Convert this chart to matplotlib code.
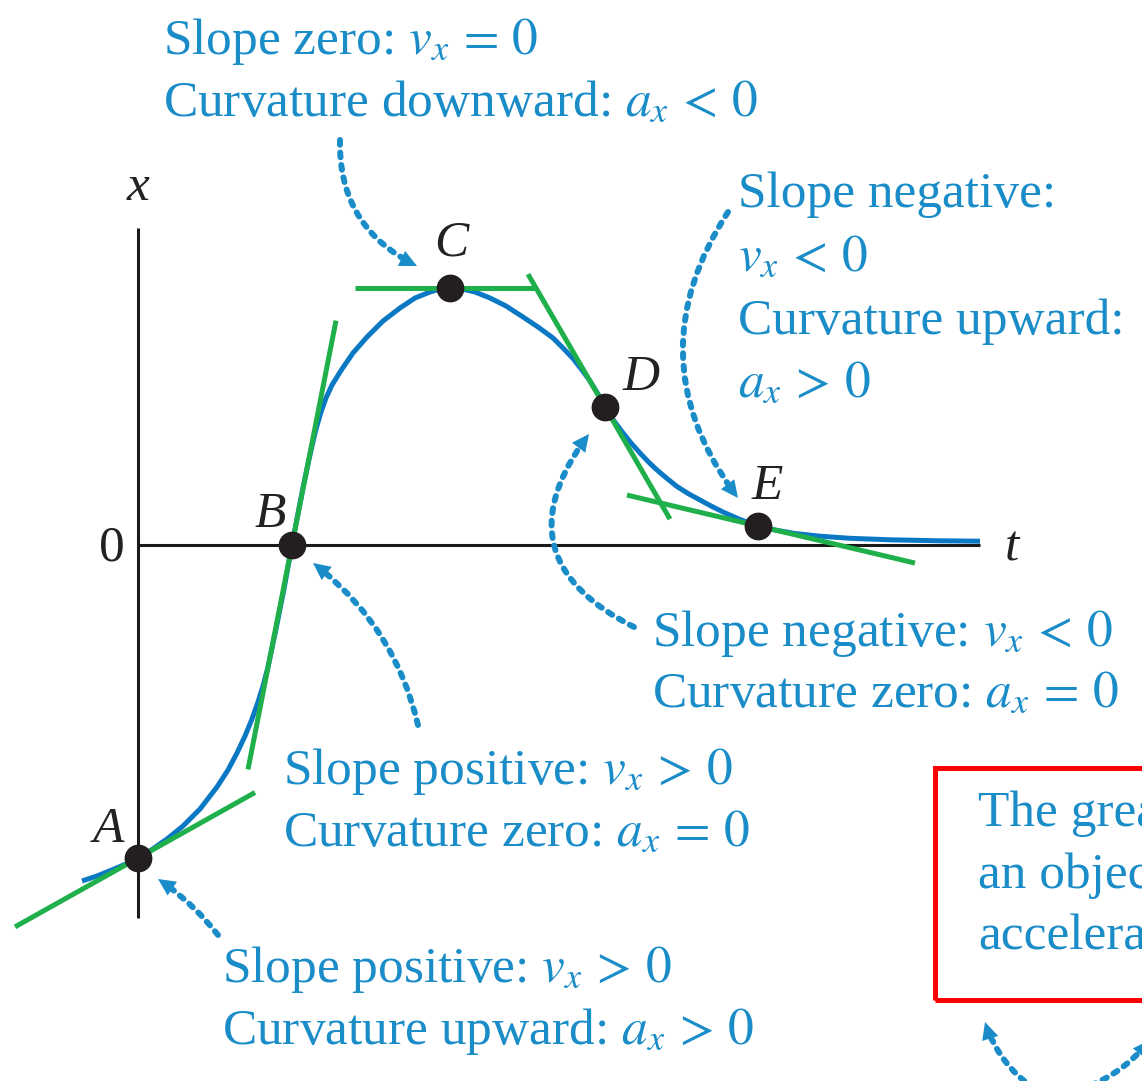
import matplotlib.pyplot as plt
from matplotlib.patches import FancyArrowPatch, Rectangle

plt.rcParams['font.family'] = ['Liberation Serif', 'DejaVu Serif']
plt.rcParams['mathtext.fontset'] = 'stix'

# x-t curve read point by point
t_curve = [-0.56, -0.41, -0.25, -0.12, 0.00, 0.14, 0.29, 0.45, 0.62, 0.79, 0.90, 0.99,
           1.07, 1.14, 1.20, 1.25, 1.30, 1.34, 1.38, 1.42, 1.46, 1.50, 1.54, 1.58,
           1.62, 1.66, 1.70, 1.74, 1.78, 1.83, 1.88, 1.94, 2.04, 2.15, 2.29, 2.45,
           2.62, 2.77, 2.92, 3.02, 3.12, 3.22, 3.37, 3.52, 3.68, 3.85, 4.00, 4.15,
           4.25, 4.35, 4.44, 4.52, 4.60, 4.67, 4.76, 4.85, 4.935, 5.02, 5.105, 5.19,
           5.29, 5.39, 5.50, 5.62, 5.73, 5.85, 6.02, 6.20, 6.37, 6.57, 6.82, 7.12,
           7.52, 8.02, 8.42]
x_curve = [-3.36, -3.31, -3.245, -3.19, -3.13, -3.045, -2.94, -2.81, -2.64, -2.42, -2.25, -2.08,
           -1.91, -1.74, -1.57, -1.41, -1.22, -1.03, -0.84, -0.64, -0.44, -0.22, 0.00, 0.21,
           0.42, 0.62, 0.81, 0.99, 1.16, 1.33, 1.47, 1.60, 1.76, 1.92, 2.08, 2.24,
           2.37, 2.47, 2.53, 2.56, 2.57, 2.565, 2.53, 2.47, 2.39, 2.28, 2.18, 2.07,
           1.97, 1.865, 1.75, 1.64, 1.51, 1.38, 1.24, 1.12, 1.015, 0.92, 0.83, 0.75,
           0.665, 0.585, 0.515, 0.45, 0.39, 0.33, 0.255, 0.19, 0.15, 0.115, 0.088, 0.067,
           0.052, 0.042, 0.038]

# marked points and their tangents
pt_names = ['A', 'B', 'C', 'D', 'E']
pt_t = [0.00, 1.54, 3.12, 4.67, 6.20]
pt_x = [-3.13, 0.00, 2.57, 1.38, 0.19]
tan_slope = [0.56, 5.1, 0.0, -1.725, -0.236]
tan_from = [-1.23, 1.10, 2.17, 3.90, 4.89]
tan_to = [1.17, 1.98, 3.99, 5.32, 7.77]
name_pos = [(-0.30, -2.85), (1.32, 0.30), (3.13, 3.02), (5.03, 1.67), (6.29, 0.58)]

# callout text: (t, x baseline, line)
notes = [
    (0.25, 4.91, r'Slope zero: $v_x\,=\,0$'),
    (0.25, 4.29, r'Curvature downward: $a_x\,<\,0$'),
    (6.00, 3.38, 'Slope negative:'),
    (6.00, 2.74, r'$v_x\,<\,0$'),
    (6.00, 2.11, 'Curvature upward:'),
    (6.00, 1.48, r'$a_x\,>\,0$'),
    (5.14, -1.01, r'Slope negative: $v_x\,<\,0$'),
    (5.14, -1.62, r'Curvature zero: $a_x\,=\,0$'),
    (1.45, -2.39, r'Slope positive: $v_x\,>\,0$'),
    (1.45, -3.01, r'Curvature zero: $a_x\,=\,0$'),
    (0.84, -4.37, r'Slope positive: $v_x\,>\,0$'),
    (0.84, -4.99, r'Curvature upward: $a_x\,>\,0$'),
]
box_lines = ['The greater the',
             "an object's",
             'acceleration']

# dotted callout arrows: start, end, arc
arrows = [
    ((2.02, 4.05), (2.79, 2.79), 0.32),
    ((5.90, 3.33), (6.00, 0.47), 0.35),
    ((4.96, -0.82), (4.51, 1.11), -0.60),
    ((2.80, -1.80), (1.75, -0.18), 0.18),
    ((0.80, -3.90), (0.20, -3.34), 0.08),
    ((9.07, -5.50), (8.47, -4.77), -0.20),
    ((9.17, -5.50), (10.12, -4.95), 0.20),
]

BLUE = '#0b78c4'
TXT = '#1a8cc8'
GREEN = '#1fb04b'
DOT = '#231f20'
FS = 37

fig = plt.figure(figsize=(11.42, 10.81), dpi=100)
ax = fig.add_axes([0, 0, 1, 1])
ax.set_xlim(-1.38, 10.04)
ax.set_ylim(-5.36, 5.45)
ax.axis('off')

# axes
ax.plot([0, 0], [-3.73, 3.17], color='#1a1a1a', lw=2.2, solid_capstyle='butt', zorder=1)
ax.plot([0, 8.42], [0, 0], color='#1a1a1a', lw=2.2, solid_capstyle='butt', zorder=1)
ax.text(0, 3.57, 'x', style='italic', fontsize=FS, ha='center', va='center', color='#222')
ax.text(-0.26, -0.03, '0', fontsize=FS, ha='center', va='center', color='#222')
ax.text(8.74, -0.03, 't', style='italic', fontsize=FS, ha='center', va='center', color='#222')

ax.plot(t_curve, x_curve, color=BLUE, lw=3.6, solid_capstyle='butt',
        solid_joinstyle='round', zorder=2)

for t0, x0, k, a, b in zip(pt_t, pt_x, tan_slope, tan_from, tan_to):
    ax.plot([a, b], [x0 + k * (a - t0), x0 + k * (b - t0)], color=GREEN, lw=3.6,
            solid_capstyle='butt', zorder=3)

ax.plot(pt_t, pt_x, 'o', color=DOT, ms=19, zorder=4)
for name, (tx, ty) in zip(pt_names, name_pos):
    ax.text(tx, ty, name, style='italic', fontsize=FS, ha='center', va='center', color='#222')

for tx, ty, s in notes:
    ax.text(tx, ty, s, fontsize=FS, color=TXT, ha='left', va='baseline')

ax.add_patch(Rectangle((7.97, -4.55), 2.5, 2.32, fill=False, edgecolor='#ff0000', lw=3.6,
                       zorder=5))
for i, s in enumerate(box_lines):
    ax.text(8.40, -2.81 - 0.62 * i, s, fontsize=FS, color=TXT, ha='left', va='baseline')

for (p0, p1, rad) in arrows:
    cs = 'arc3,rad=%.2f' % rad
    shaft = FancyArrowPatch(p0, p1, connectionstyle=cs, arrowstyle='-', color=TXT, lw=4.3,
                            linestyle=(0, (0.8, 1.3)), shrinkA=0, shrinkB=8, zorder=5)
    head = FancyArrowPatch(p0, p1, connectionstyle=cs,
                           arrowstyle='-|>,head_length=0.62,head_width=0.3',
                           mutation_scale=20, color=TXT, lw=0, shrinkA=0, shrinkB=0, zorder=5)
    ax.add_patch(shaft)
    ax.add_patch(head)

fig.savefig('out.png', dpi=100)
